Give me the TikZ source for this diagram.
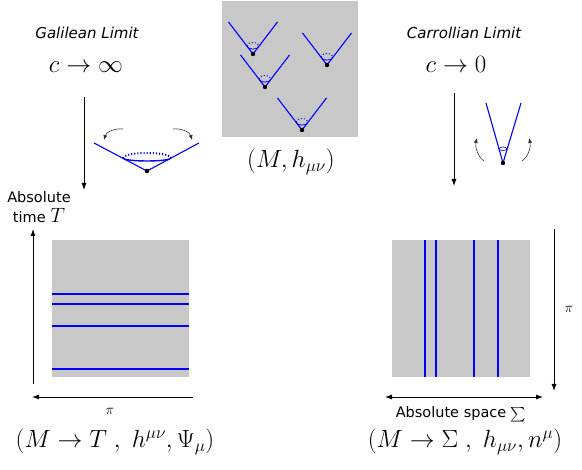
\documentclass[tikz,border=0pt]{standalone}
\usepackage{amsmath}
\usepackage{amssymb}
\usepackage{fontspec}
\setsansfont{DejaVu Sans}
\usetikzlibrary{arrows.meta}
\definecolor{sheetgray}{RGB}{200,200,200}
\definecolor{leafblue}{RGB}{0,0,255}

\tikzset{
  cone/.style={leafblue, line width=1.1pt},
  leaf/.style={leafblue, line width=1.8pt},
  flow/.style={-{Latex[length=7pt,width=5pt]}, line width=0.9pt},
  turn/.style={-{Latex[length=5pt,width=4pt]}, line width=0.6pt, black!80},
  limitname/.style={font=\sffamily\itshape\fontsize{15}{17}\selectfont, anchor=base},
  limitmath/.style={font=\fontsize{24}{28}\selectfont, anchor=base},
  structure/.style={font=\fontsize{23}{27}\selectfont, anchor=base},
  axisname/.style={font=\sffamily\fontsize{14.5}{15}\selectfont, anchor=base, inner sep=0.5pt},
  projname/.style={font=\fontsize{14}{16}\selectfont}
}

\begin{document}
\begin{tikzpicture}[x=1pt,y=-1pt]
\useasboundingbox (0,0) rectangle (582,470);

% spacetime with its light cones
\fill[sheetgray] (222,1) rectangle (358,137);
\foreach \ax/\ay in {253/54, 327/65, 265/87, 302/130} {
  \draw[cone] (\ax-24.5,\ay-32) -- (\ax,\ay) -- (\ax+24.5,\ay-32);
  \draw[cone, line width=0.8pt] (\ax+6,\ay-8) arc[start angle=0, end angle=180, x radius=6, y radius=3];
  \draw[cone, dotted, line width=0.9pt] (\ax-6,\ay-8) arc[start angle=180, end angle=360, x radius=6, y radius=3.5];
  \fill (\ax,\ay) circle (2.2);
}
\node[structure, font=\fontsize{25}{29}\selectfont] (metric) at (291,168) {$(M,h_{\mu\nu})$};

% Galilean side
\node[limitname] (galilean) at (87,38.5) {Galilean Limit};
\node[limitmath] (cinf) at (86,73) {$c\rightarrow\infty$};
\coordinate (galtop) at (84,97);
\coordinate (galbot) at (84,190);
\draw[flow] (galtop) -- (galbot);

\draw[cone] (94,143) -- (147,171) -- (199,143);
\draw[cone, line width=1.4pt] (171,158) arc[start angle=0, end angle=180, x radius=24, y radius=3];
\draw[cone, dotted, line width=2pt] (123,158) arc[start angle=180, end angle=360, x radius=24, y radius=5];
\fill (147,171) circle (2.3);
\draw[turn] (123,129) .. controls (113,128) and (106,133) .. (104,140);
\draw[turn] (173,129) .. controls (183,128) and (190,133) .. (192,140);

\fill[sheetgray] (52,240) rectangle (189,377);
\foreach \ly in {294, 304, 326, 369}
  \draw[leaf] (52,\ly) -- (189,\ly);
\coordinate (timelow) at (33,384);
\coordinate (timehigh) at (33,229);
\draw[flow] (timelow) -- (timehigh);
\coordinate (galright) at (193,397);
\coordinate (galleft) at (32,397);
\draw[flow] (galright) -- (galleft);
\node[axisname] (abstime) at (39,203) {Absolute};
\node[axisname] (abstimeT) at (39,223) {time {\fontsize{20}{20}\selectfont$T$}};
\node[projname] (pileft) at (110,411) {$\pi$};
\node[structure] (galstruct) at (115,448) {$(M\rightarrow T\ ,\ h^{\mu\nu},\Psi_\mu)$};

% Carrollian side
\node[limitname] (carroll) at (464,38.5) {Carrollian Limit};
\node[limitmath] (czero) at (456,73) {$c\rightarrow 0$};
\coordinate (cartop) at (454,93);
\coordinate (carbot) at (454,186);
\draw[flow] (cartop) -- (carbot);

\draw[cone] (486,103) -- (503,163) -- (521,103);
\draw[cone, line width=0.6pt] (507,149) arc[start angle=0, end angle=180, x radius=4, y radius=1.5];
\draw[cone, line width=0.6pt] (499,149) arc[start angle=180, end angle=360, x radius=4, y radius=2];
\fill (503,163) circle (2.2);
\draw[turn] (484,161) .. controls (477,156) and (475,146) .. (477,138);
\draw[turn] (522,161) .. controls (529,156) and (531,146) .. (529,138);

\fill[sheetgray] (392,240) rectangle (530,377);
\foreach \lx in {425, 436, 474, 498}
  \draw[leaf] (\lx,240) -- (\lx,377);
\coordinate (spacehigh) at (554,229);
\coordinate (spacelow) at (554,391);
\draw[flow] (spacehigh) -- (spacelow);
\coordinate (carleft) at (385,397);
\coordinate (carright) at (543,397);
\draw[{Latex[length=7pt,width=5pt]}-{Latex[length=7pt,width=5pt]}, line width=0.9pt] (carleft) -- (carright);
\node[projname] (piright) at (569,309) {$\pi$};
\node[axisname] (absspace) at (461,418) {Absolute space $\sum$};
\node[structure] (carstruct) at (465,448) {$(M\rightarrow \Sigma\ ,\ h_{\mu\nu},n^\mu)$};
\end{tikzpicture}
\end{document}
